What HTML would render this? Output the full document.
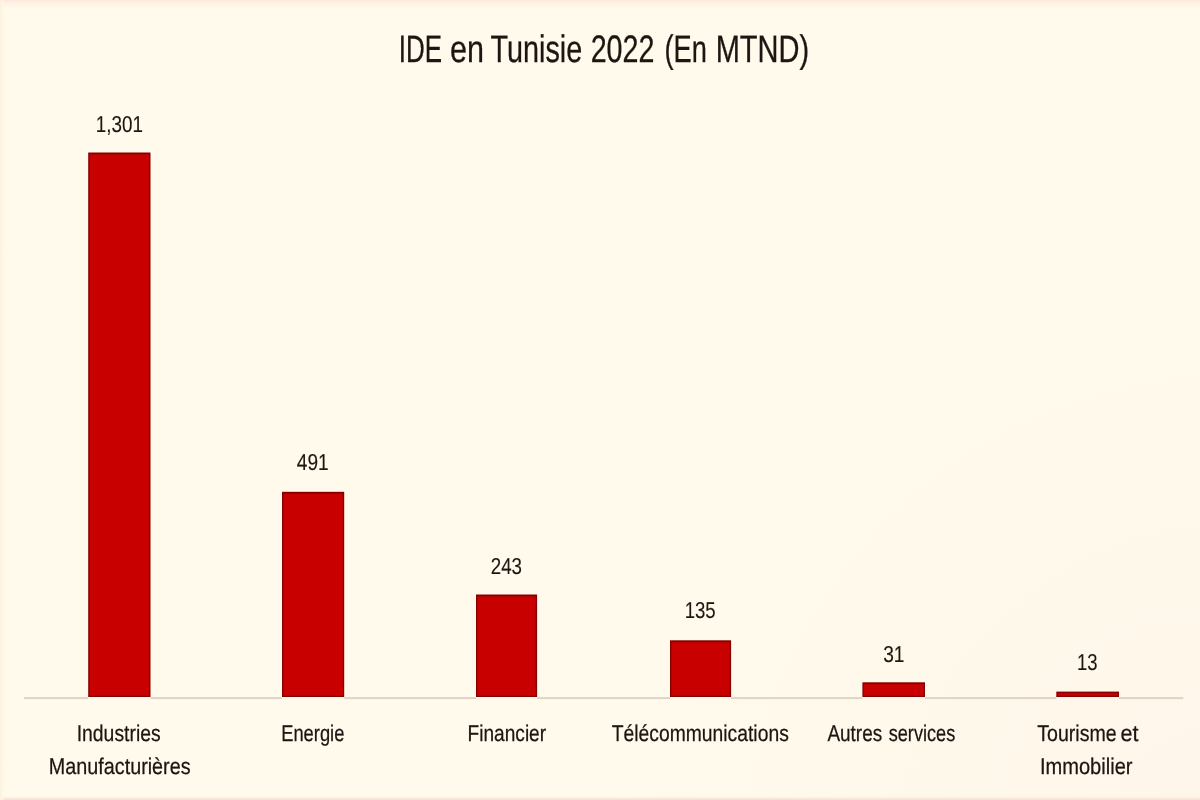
<!DOCTYPE html>
<html lang="fr">
<head>
<meta charset="utf-8">
<title>IDE en Tunisie 2022 (En MTND)</title>
<style>
  html, body { margin: 0; padding: 0; width: 1200px; height: 800px; overflow: hidden; background: #fffaeb; }
  svg { display: block; position: absolute; left: 0; top: 0; }
  text { font-family: "Liberation Sans", sans-serif; fill: #1c1612; stroke: #1c1612; stroke-linejoin: round; text-rendering: geometricPrecision; }
  .title text { font-size: 38.3px; stroke-width: 0.3px; }
  .val text { font-size: 23px; stroke-width: 0.12px; }
  .cat text { font-size: 22.8px; stroke-width: 0.25px; }
</style>
</head>
<body>
<svg width="1200" height="800" viewBox="0 0 1200 800">
  <defs>
    <radialGradient id="bg" gradientUnits="userSpaceOnUse" cx="1230" cy="860" r="620">
      <stop offset="0" stop-color="#fef5ea"/>
      <stop offset="0.45" stop-color="#fef8eb"/>
      <stop offset="1" stop-color="#fffaeb"/>
    </radialGradient>
    <linearGradient id="topb" x1="0" y1="0" x2="0" y2="1">
      <stop offset="0" stop-color="#fde9db"/>
      <stop offset="0.28" stop-color="#fdeee0"/>
      <stop offset="0.4" stop-color="#fef4e6"/>
      <stop offset="0.85" stop-color="#fef6e8"/>
      <stop offset="1" stop-color="#fffaea" stop-opacity="0"/>
    </linearGradient>
    <linearGradient id="botb" x1="0" y1="1" x2="0" y2="0">
      <stop offset="0" stop-color="#fcddcf"/>
      <stop offset="0.6" stop-color="#fdebdd"/>
      <stop offset="1" stop-color="#fef4e6" stop-opacity="0"/>
    </linearGradient>
    <linearGradient id="leftb" x1="0" y1="0" x2="1" y2="0">
      <stop offset="0" stop-color="#fdf0de"/>
      <stop offset="0.4" stop-color="#fef5e4" stop-opacity="0.8"/>
      <stop offset="1" stop-color="#fef7e8" stop-opacity="0"/>
    </linearGradient>
  </defs>
  <rect x="0" y="0" width="1200" height="800" fill="url(#bg)"/>
  <rect x="0" y="0" width="1200" height="8" fill="url(#topb)"/>
  <rect x="0" y="796.5" width="1200" height="3.5" fill="url(#botb)"/>
  <rect x="0" y="0" width="5" height="800" fill="url(#leftb)"/>

  <!-- axis -->
  <g fill="#ddd4c6">
    <rect x="24.0" y="697.1" width="64.2" height="2"/>
    <rect x="150.5" y="697.1" width="131.5" height="2"/>
    <rect x="344.2" y="697.1" width="131.8" height="2"/>
    <rect x="537.1" y="697.1" width="132.9" height="2"/>
    <rect x="731.1" y="697.1" width="131.3" height="2"/>
    <rect x="925.0" y="697.1" width="131.3" height="2"/>
    <rect x="1119.0" y="697.1" width="64.3" height="2"/>
  </g>

  <!-- bars -->
  <g fill="#860000">
    <rect x="88.2" y="152.5" width="62.3" height="544.5"/>
    <rect x="282.0" y="491.8" width="62.2" height="205.2"/>
    <rect x="476.0" y="594.5" width="61.1" height="102.5"/>
    <rect x="670.0" y="640.3" width="61.1" height="56.7"/>
    <rect x="862.4" y="682.3" width="62.6" height="14.7"/>
    <rect x="1056.3" y="691.6" width="62.7" height="5.4"/>
  </g>
  <g fill="#c90000">
    <rect x="89.6" y="154.4" width="59.5" height="541.3"/>
    <rect x="283.4" y="493.7" width="59.4" height="202.0"/>
    <rect x="477.4" y="596.4" width="58.3" height="99.3"/>
    <rect x="671.4" y="642.2" width="58.3" height="53.5"/>
    <rect x="863.8" y="684.2" width="59.8" height="11.5"/>
    <rect x="1057.7" y="693.1" width="59.9" height="2.6"/>
  </g>

  <!-- title -->
  <g class="title">
    <text x="398.7" y="62.0" textLength="43.3" lengthAdjust="spacingAndGlyphs">IDE</text>
    <text x="450.0" y="62.0" textLength="34.0" lengthAdjust="spacingAndGlyphs">en</text>
    <text x="490.5" y="62.0" textLength="91.8" lengthAdjust="spacingAndGlyphs">Tunisie</text>
    <text x="590.7" y="62.0" textLength="63.7" lengthAdjust="spacingAndGlyphs">2022</text>
    <text x="664.4" y="62.0" textLength="42.4" lengthAdjust="spacingAndGlyphs">(En</text>
    <text x="715.7" y="62.0" textLength="93.5" lengthAdjust="spacingAndGlyphs">MTND)</text>
  </g>

  <!-- value labels -->
  <g class="val">
    <text x="95.8" y="132.0" textLength="47.1" lengthAdjust="spacingAndGlyphs">1,301</text>
    <text x="296.8" y="470.0" textLength="31.9" lengthAdjust="spacingAndGlyphs">491</text>
    <text x="490.8" y="574.0" textLength="31.2" lengthAdjust="spacingAndGlyphs">243</text>
    <text x="684.7" y="618.0" textLength="31.0" lengthAdjust="spacingAndGlyphs">135</text>
    <text x="883.2" y="662.0" textLength="21.3" lengthAdjust="spacingAndGlyphs">31</text>
    <text x="1077.1" y="670.0" textLength="20.5" lengthAdjust="spacingAndGlyphs">13</text>
  </g>

  <!-- category labels -->
  <g class="cat">
    <text x="76.7" y="741.0" textLength="84.0" lengthAdjust="spacingAndGlyphs">Industries</text>
    <text x="48.8" y="774.0" textLength="141.8" lengthAdjust="spacingAndGlyphs">Manufacturières</text>
    <text x="281.2" y="741.0" textLength="63.2" lengthAdjust="spacingAndGlyphs">Energie</text>
    <text x="467.6" y="741.0" textLength="78.5" lengthAdjust="spacingAndGlyphs">Financier</text>
    <text x="611.7" y="741.0" textLength="177.1" lengthAdjust="spacingAndGlyphs">Télécommunications</text>
    <text x="827.4" y="741.0" textLength="54.8" lengthAdjust="spacingAndGlyphs">Autres</text>
    <text x="888.7" y="741.0" textLength="66.6" lengthAdjust="spacingAndGlyphs">services</text>
    <text x="1037.2" y="741.0" textLength="79.5" lengthAdjust="spacingAndGlyphs">Tourisme</text>
    <text x="1120.4" y="741.0" textLength="18.0" lengthAdjust="spacingAndGlyphs">et</text>
    <text x="1039.9" y="774.0" textLength="92.6" lengthAdjust="spacingAndGlyphs">Immobilier</text>
  </g>
</svg>
</body>
</html>
